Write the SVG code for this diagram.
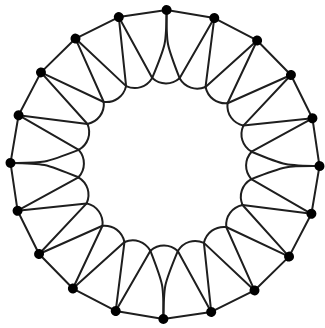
<svg xmlns="http://www.w3.org/2000/svg" xmlns:xlink="http://www.w3.org/1999/xlink" width="325" height="328" viewBox="0 0 325 328">
<style>
.e{fill:none;stroke:#1e1e1e;stroke-width:2;stroke-linecap:round;stroke-linejoin:round}
.n{fill:#000}
</style>
<defs>
<g id="ring">
<path class="e" d="M165,10 L212.74,17.56"/>
<path class="e" d="M151.31,78.08 C159.45,85.19 170.55,85.19 178.69,78.08"/>
</g>
<g id="secA">
<use xlink:href="#ring"/>
<path class="e" d="M165,10 C165,44 165,44 151.31,78.08"/>
<path class="e" d="M165,10 C165,44 165,44 178.69,78.08"/>
</g>
<g id="secB">
<use xlink:href="#ring"/>
<path class="e" d="M165,10 L151.31,78.08"/>
<path class="e" d="M165,10 L178.69,78.08"/>
</g>
<circle id="dot" class="n" cx="165" cy="10" r="5"/>
</defs>
<rect width="325" height="328" fill="#fff"/>
<g id="connectors">
<use xlink:href="#secA" transform="rotate(0.6 165 164.5)"/>
<use xlink:href="#secB" transform="rotate(18.6 165 164.5)"/>
<use xlink:href="#secB" transform="rotate(36.6 165 164.5)"/>
<use xlink:href="#secB" transform="rotate(54.6 165 164.5)"/>
<use xlink:href="#secB" transform="rotate(72.6 165 164.5)"/>
<use xlink:href="#secA" transform="rotate(90.6 165 164.5)"/>
<use xlink:href="#secB" transform="rotate(108.6 165 164.5)"/>
<use xlink:href="#secB" transform="rotate(126.6 165 164.5)"/>
<use xlink:href="#secB" transform="rotate(144.6 165 164.5)"/>
<use xlink:href="#secB" transform="rotate(162.6 165 164.5)"/>
<use xlink:href="#secA" transform="rotate(180.6 165 164.5)"/>
<use xlink:href="#secB" transform="rotate(198.6 165 164.5)"/>
<use xlink:href="#secB" transform="rotate(216.6 165 164.5)"/>
<use xlink:href="#secB" transform="rotate(234.6 165 164.5)"/>
<use xlink:href="#secB" transform="rotate(252.6 165 164.5)"/>
<use xlink:href="#secA" transform="rotate(270.6 165 164.5)"/>
<use xlink:href="#secB" transform="rotate(288.6 165 164.5)"/>
<use xlink:href="#secB" transform="rotate(306.6 165 164.5)"/>
<use xlink:href="#secB" transform="rotate(324.6 165 164.5)"/>
<use xlink:href="#secB" transform="rotate(342.6 165 164.5)"/>
</g>
<g id="n0" transform="rotate(0.6 165 164.5)"><use xlink:href="#dot"/></g>
<g id="n1" transform="rotate(18.6 165 164.5)"><use xlink:href="#dot"/></g>
<g id="n2" transform="rotate(36.6 165 164.5)"><use xlink:href="#dot"/></g>
<g id="n3" transform="rotate(54.6 165 164.5)"><use xlink:href="#dot"/></g>
<g id="n4" transform="rotate(72.6 165 164.5)"><use xlink:href="#dot"/></g>
<g id="n5" transform="rotate(90.6 165 164.5)"><use xlink:href="#dot"/></g>
<g id="n6" transform="rotate(108.6 165 164.5)"><use xlink:href="#dot"/></g>
<g id="n7" transform="rotate(126.6 165 164.5)"><use xlink:href="#dot"/></g>
<g id="n8" transform="rotate(144.6 165 164.5)"><use xlink:href="#dot"/></g>
<g id="n9" transform="rotate(162.6 165 164.5)"><use xlink:href="#dot"/></g>
<g id="n10" transform="rotate(180.6 165 164.5)"><use xlink:href="#dot"/></g>
<g id="n11" transform="rotate(198.6 165 164.5)"><use xlink:href="#dot"/></g>
<g id="n12" transform="rotate(216.6 165 164.5)"><use xlink:href="#dot"/></g>
<g id="n13" transform="rotate(234.6 165 164.5)"><use xlink:href="#dot"/></g>
<g id="n14" transform="rotate(252.6 165 164.5)"><use xlink:href="#dot"/></g>
<g id="n15" transform="rotate(270.6 165 164.5)"><use xlink:href="#dot"/></g>
<g id="n16" transform="rotate(288.6 165 164.5)"><use xlink:href="#dot"/></g>
<g id="n17" transform="rotate(306.6 165 164.5)"><use xlink:href="#dot"/></g>
<g id="n18" transform="rotate(324.6 165 164.5)"><use xlink:href="#dot"/></g>
<g id="n19" transform="rotate(342.6 165 164.5)"><use xlink:href="#dot"/></g>
</svg>
